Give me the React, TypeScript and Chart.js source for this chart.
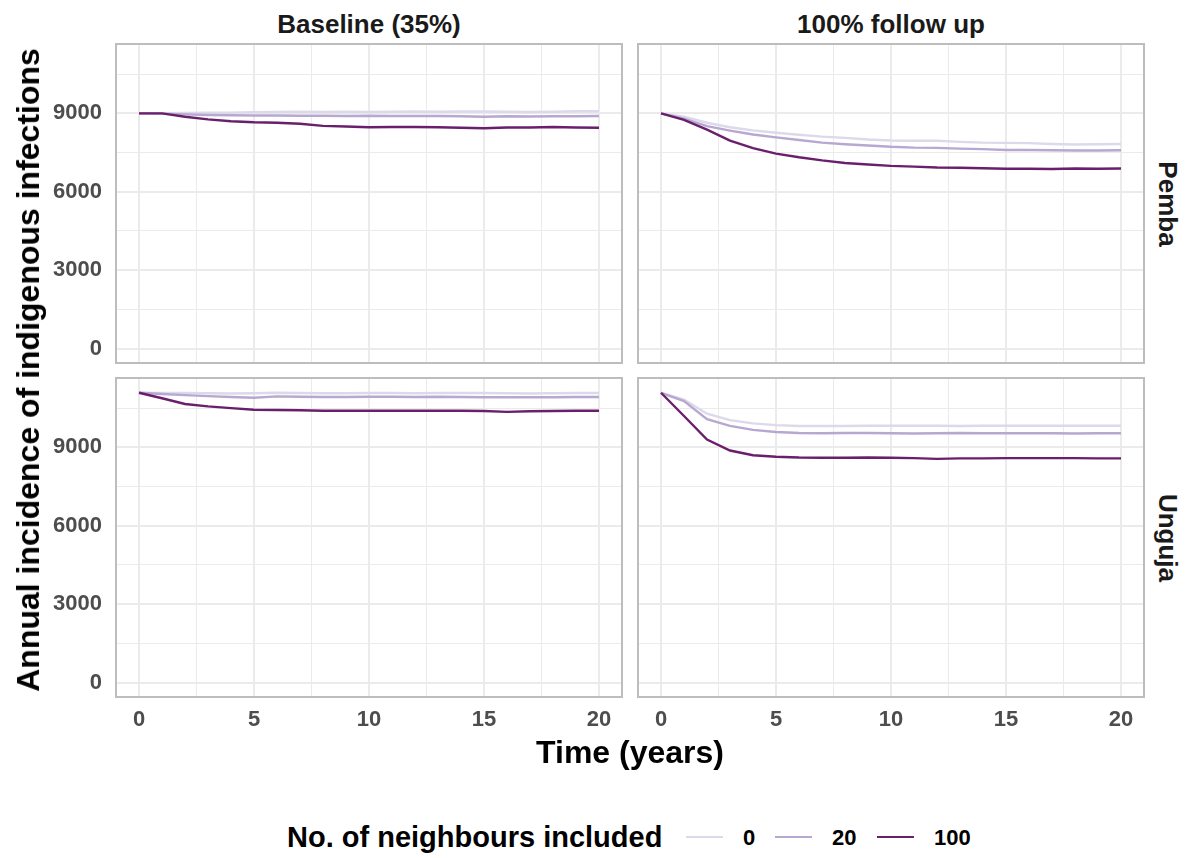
import React, { useEffect, useRef } from 'react';
import { Chart, registerables } from 'chart.js';

Chart.register(...registerables);

// ---------------- data ----------------
const YEARS = [0, 1, 2, 3, 4, 5, 6, 7, 8, 9, 10, 11, 12, 13, 14, 15, 16, 17, 18, 19, 20];
const SERIES_NAMES = ['0', '20', '100'];
const COL_TITLES = ['Baseline (35%)', '100% follow up'];
const ROW_TITLES = ['Pemba', 'Unguja'];

const PEMBA_BASELINE_0 = [9000, 9010, 9020, 9030, 9030, 9040, 9050, 9060, 9050, 9060, 9050, 9060, 9070, 9060, 9070, 9070, 9060, 9050, 9060, 9080, 9080];
const PEMBA_BASELINE_20 = [9000, 8990, 8960, 8940, 8930, 8920, 8920, 8910, 8910, 8900, 8910, 8900, 8900, 8900, 8890, 8870, 8890, 8880, 8890, 8890, 8900];
const PEMBA_BASELINE_100 = [9000, 9000, 8870, 8770, 8700, 8660, 8640, 8600, 8520, 8500, 8470, 8480, 8480, 8470, 8450, 8430, 8460, 8460, 8480, 8460, 8450];

const PEMBA_FOLLOWUP_0 = [9000, 8870, 8640, 8470, 8350, 8260, 8180, 8110, 8060, 8000, 7960, 7950, 7950, 7910, 7880, 7870, 7860, 7830, 7810, 7820, 7830];
const PEMBA_FOLLOWUP_20 = [9000, 8800, 8510, 8340, 8190, 8080, 7980, 7880, 7820, 7770, 7720, 7690, 7680, 7650, 7630, 7600, 7600, 7590, 7580, 7580, 7590];
const PEMBA_FOLLOWUP_100 = [9000, 8750, 8380, 7960, 7670, 7460, 7320, 7200, 7100, 7040, 6990, 6960, 6930, 6920, 6900, 6880, 6880, 6870, 6890, 6880, 6890];

const UNGUJA_BASELINE_0 = [11090, 11080, 11080, 11070, 11060, 11070, 11090, 11080, 11070, 11070, 11080, 11080, 11070, 11080, 11080, 11080, 11070, 11060, 11070, 11080, 11080];
const UNGUJA_BASELINE_20 = [11090, 11040, 11000, 10960, 10930, 10900, 10950, 10940, 10930, 10930, 10940, 10940, 10930, 10940, 10930, 10920, 10920, 10920, 10920, 10930, 10930];
const UNGUJA_BASELINE_100 = [11090, 10880, 10660, 10570, 10500, 10440, 10430, 10420, 10400, 10400, 10400, 10400, 10400, 10400, 10400, 10390, 10360, 10380, 10390, 10400, 10400];

const UNGUJA_FOLLOWUP_0 = [11090, 10830, 10290, 10040, 9920, 9850, 9820, 9820, 9820, 9830, 9830, 9830, 9830, 9820, 9830, 9830, 9830, 9830, 9830, 9830, 9830];
const UNGUJA_FOLLOWUP_20 = [11090, 10770, 10080, 9820, 9670, 9590, 9550, 9540, 9550, 9550, 9540, 9530, 9540, 9550, 9540, 9540, 9540, 9540, 9530, 9540, 9540];
const UNGUJA_FOLLOWUP_100 = [11090, 10200, 9300, 8880, 8700, 8640, 8610, 8600, 8600, 8610, 8600, 8590, 8560, 8580, 8580, 8590, 8590, 8590, 8590, 8580, 8580];

const Y_LABEL_TICKS = [0, 3000, 6000, 9000];
const Y_GRID_TICKS = [0, 1500, 3000, 4500, 6000, 7500, 9000, 10500];
const X_LABEL_TICKS = [0, 5, 10, 15, 20];
const X_GRID_TICKS = [0, 2.5, 5, 7.5, 10, 12.5, 15, 17.5, 20];
const Y_MIN = -555;
const Y_MAX = 11655;
const X_MIN = -1;
const X_MAX = 21;

// ---------------- style / layout ----------------
const COLORS = ['#dcd9ea', '#b7a7d1', '#6a1f6d'];
const FONT = '"Liberation Sans", Arial, sans-serif';
const COL_X = [[116, 622], [638, 1144]];
const ROW_Y = [[44, 363], [378, 697]];
const PAD = 4;
const Y_AXIS_W = 80;
const X_AXIS_H = 40;

Chart.defaults.font.family = FONT;

const panelBorder = {
  id: 'panelBorder',
  afterDraw(chart: any) {
    const { ctx, chartArea: a } = chart;
    ctx.save();
    ctx.strokeStyle = '#bdbdbd';
    ctx.lineWidth = 2;
    ctx.strokeRect(a.left, a.top, a.right - a.left, a.bottom - a.top);
    ctx.restore();
  },
};

function zeroPadding(s: any) {
  s.paddingLeft = 0;
  s.paddingRight = 0;
  s.paddingTop = 0;
  s.paddingBottom = 0;
}

type PanelProps = { row: number; col: number; series: number[][] };

function Panel({ row, col, series }: PanelProps) {
  const ref = useRef<HTMLCanvasElement | null>(null);
  const showY = col === 0;
  const showX = row === 1;
  const [px0, px1] = COL_X[col];
  const [py0, py1] = ROW_Y[row];
  const left = showY ? px0 - Y_AXIS_W : px0 - PAD;
  const top = py0 - PAD;
  const width = px1 + PAD - left;
  const height = (showX ? py1 + X_AXIS_H : py1 + PAD) - top;

  useEffect(() => {
    const datasets = series.map((vals, i) => ({
      label: SERIES_NAMES[i],
      data: YEARS.map((x, j) => ({ x, y: vals[j] })),
      borderColor: COLORS[i],
      backgroundColor: COLORS[i],
      borderWidth: 2.4,
      pointRadius: 0,
      tension: 0,
      fill: false,
      order: series.length - 1 - i,
    }));
    const chart = new Chart(ref.current as HTMLCanvasElement, {
      type: 'line',
      data: { datasets },
      options: {
        animation: false,
        responsive: false,
        devicePixelRatio: 1,
        layout: {
          padding: { left: showY ? 0 : PAD, right: PAD, top: PAD, bottom: showX ? 0 : PAD },
        },
        plugins: { legend: { display: false }, tooltip: { enabled: false }, title: { display: false } },
        scales: {
          x: {
            type: 'linear',
            min: X_MIN,
            max: X_MAX,
            afterBuildTicks: (s: any) => {
              s.ticks = X_GRID_TICKS.map((v) => ({ value: v }));
            },
            afterFit: (s: any) => {
              s.height = showX ? X_AXIS_H : 0;
              zeroPadding(s);
            },
            grid: {
              color: '#ebebeb',
              drawTicks: false,
              lineWidth: (c: any) => (X_LABEL_TICKS.includes(c.tick?.value) ? 2 : 1),
            },
            border: { display: false },
            ticks: {
              display: showX,
              autoSkip: false,
              maxRotation: 0,
              padding: 10,
              color: '#4d4d4d',
              font: { size: 22, weight: 'bold', family: FONT },
              callback: (v: any) => (X_LABEL_TICKS.includes(v) ? String(v) : ''),
            },
          },
          y: {
            type: 'linear',
            min: Y_MIN,
            max: Y_MAX,
            afterBuildTicks: (s: any) => {
              s.ticks = Y_GRID_TICKS.map((v) => ({ value: v }));
            },
            afterFit: (s: any) => {
              s.width = showY ? Y_AXIS_W : 0;
              zeroPadding(s);
            },
            grid: {
              color: '#ebebeb',
              drawTicks: false,
              lineWidth: (c: any) => (Y_LABEL_TICKS.includes(c.tick?.value) ? 2 : 1),
            },
            border: { display: false },
            ticks: {
              display: showY,
              autoSkip: false,
              padding: 14,
              color: '#4d4d4d',
              font: { size: 22, weight: 'bold', family: FONT },
              callback: (v: any) => (Y_LABEL_TICKS.includes(v) ? String(v) : ''),
            },
          },
        },
      },
      plugins: [panelBorder],
    } as any);
    return () => chart.destroy();
  }, []);

  return (
    <canvas
      ref={ref}
      width={width}
      height={height}
      style={{ position: 'absolute', left, top, width, height }}
    />
  );
}

function Label({ text, cx, cy, size, rotate = 0, color = '#000' }: any) {
  return (
    <div
      style={{
        position: 'absolute',
        left: cx,
        top: cy,
        transform: `translate(-50%, -50%) rotate(${rotate}deg)`,
        fontSize: size,
        lineHeight: `${size}px`,
        fontWeight: 'bold',
        whiteSpace: 'nowrap',
        color,
        fontFamily: FONT,
      }}
    >
      {text}
    </div>
  );
}

const PANELS = [
  { row: 0, col: 0, series: [PEMBA_BASELINE_0, PEMBA_BASELINE_20, PEMBA_BASELINE_100] },
  { row: 0, col: 1, series: [PEMBA_FOLLOWUP_0, PEMBA_FOLLOWUP_20, PEMBA_FOLLOWUP_100] },
  { row: 1, col: 0, series: [UNGUJA_BASELINE_0, UNGUJA_BASELINE_20, UNGUJA_BASELINE_100] },
  { row: 1, col: 1, series: [UNGUJA_FOLLOWUP_0, UNGUJA_FOLLOWUP_20, UNGUJA_FOLLOWUP_100] },
];

const LEGEND_KEYS = [
  { x0: 686, x1: 723, lx: 743 },
  { x0: 775, x1: 812, lx: 832 },
  { x0: 877, x1: 914, lx: 934 },
];

export default function App() {
  return (
    <div
      style={{
        position: 'fixed',
        left: 0,
        top: 0,
        width: 1188,
        height: 858,
        background: '#fff',
        fontFamily: FONT,
        overflow: 'hidden',
      }}
    >
      {PANELS.map((p, i) => (
        <Panel key={i} row={p.row} col={p.col} series={p.series} />
      ))}
      {COL_TITLES.map((t, i) => (
        <Label key={'c' + i} text={t} cx={(COL_X[i][0] + COL_X[i][1]) / 2} cy={24} size={26} color="#1a1a1a" />
      ))}
      {ROW_TITLES.map((t, i) => (
        <Label key={'r' + i} text={t} cx={1168} cy={(ROW_Y[i][0] + ROW_Y[i][1]) / 2} size={26} rotate={90} color="#1a1a1a" />
      ))}
      <Label text="Annual incidence of indigenous infections" cx={28} cy={370} size={32} rotate={-90} />
      <Label text="Time (years)" cx={630} cy={752} size={32} />
      <div
        style={{
          position: 'absolute',
          left: 287,
          top: 838 - 15,
          fontSize: 29,
          lineHeight: '29px',
          fontWeight: 'bold',
          whiteSpace: 'nowrap',
          color: '#000',
        }}
      >
        No. of neighbours included
      </div>
      {LEGEND_KEYS.map((k, i) => (
        <React.Fragment key={'k' + i}>
          <div
            style={{
              position: 'absolute',
              left: k.x0,
              top: 836,
              width: k.x1 - k.x0,
              height: 2.4,
              background: COLORS[i],
            }}
          />
          <div
            style={{
              position: 'absolute',
              left: k.lx,
              top: 838 - 11,
              fontSize: 22,
              lineHeight: '22px',
              fontWeight: 'bold',
              whiteSpace: 'nowrap',
              color: '#000',
            }}
          >
            {SERIES_NAMES[i]}
          </div>
        </React.Fragment>
      ))}
    </div>
  );
}
